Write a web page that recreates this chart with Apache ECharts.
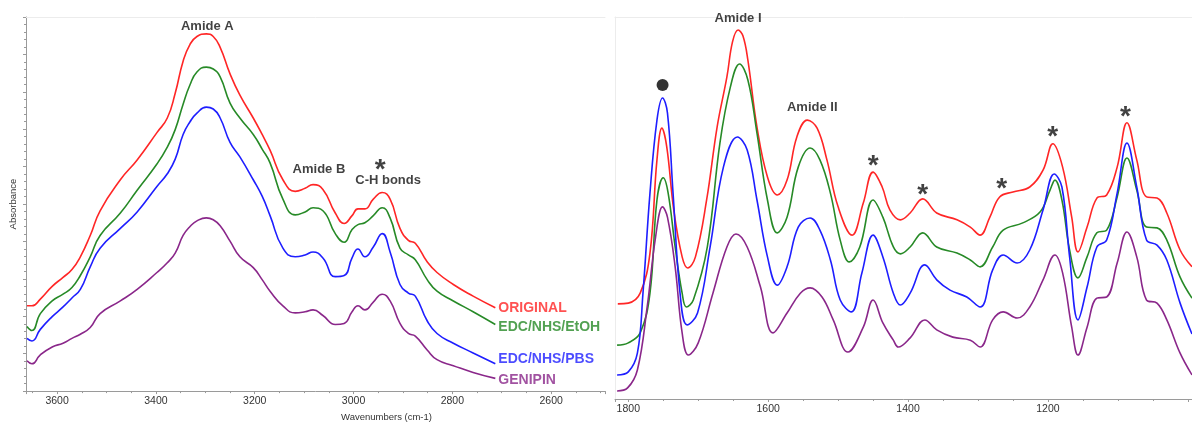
<!DOCTYPE html>
<html>
<head>
<meta charset="utf-8">
<script src="https://cdn.jsdelivr.net/npm/echarts@6/dist/echarts.min.js"></script>
<style>
  html, body { margin: 0; padding: 0; background: #fff; }
  #chart { width: 1192px; height: 427px; }
</style>
</head>
<body>
<div id="chart"></div>
<script>
// FTIR spectra of collagen samples, two wavenumber windows.
const sampleNames = ['ORIGINAL', 'EDC/NHS/EtOH', 'EDC/NHS/PBS', 'GENIPIN'];
const sampleColors = ['#ff2626', '#278a27', '#1e1eff', '#8a278a'];

// High wavenumber window (cm-1), shared sampling for all samples
const wnHigh = [3661, 3651, 3634, 3610, 3588, 3570, 3553, 3533, 3513, 3472, 3438, 3398, 3377, 3361, 3345, 3331, 3317, 3298, 3284, 3270, 3250, 3230, 3203, 3185, 3169, 3143, 3118, 3098, 3082, 3062, 3037, 3019, 3003, 2991, 2977, 2960, 2942, 2926, 2906, 2889, 2875, 2851, 2831, 2798, 2758, 2713];
const originalHigh = [.228, .228, .246, .280, .304, .325, .359, .416, .482, .565, .618, .691, .730, .796, .882, .927, .948, .955, .948, .919, .848, .791, .730, .686, .644, .565, .534, .542, .552, .539, .476, .448, .469, .487, .487, .513, .531, .513, .435, .403, .395, .346, .317, .285, .254, .223];
const etohHigh = [.173, .162, .207, .241, .259, .277, .309, .359, .416, .476, .537, .607, .652, .699, .767, .819, .853, .866, .861, .840, .770, .730, .686, .647, .610, .513, .471, .479, .490, .482, .421, .398, .432, .445, .450, .469, .490, .463, .382, .364, .351, .298, .267, .241, .212, .178];
const pbsHigh = [.141, .134, .165, .199, .225, .249, .272, .332, .382, .435, .479, .547, .581, .620, .686, .720, .743, .759, .754, .730, .665, .626, .565, .521, .469, .382, .359, .364, .372, .356, .306, .309, .356, .380, .359, .385, .421, .372, .285, .262, .254, .188, .154, .128, .102, .073];
const genipinHigh = [.081, .073, .097, .118, .128, .141, .152, .170, .207, .241, .272, .317, .343, .369, .416, .440, .455, .463, .458, .442, .401, .359, .330, .298, .267, .228, .209, .212, .217, .202, .178, .181, .212, .228, .217, .238, .259, .241, .181, .154, .147, .110, .084, .068, .050, .034];

// Fingerprint window: [wavenumber, absorbance]
const originalLow = [[1815, .249], [1800, .251], [1783, .277], [1769, .382], [1759, .626], [1752, .709], [1745, .660], [1735, .495], [1723, .372], [1715, .343], [1704, .372], [1688, .521], [1673, .712], [1659, .843], [1651, .935], [1643, .966], [1636, .950], [1629, .887], [1616, .712], [1601, .581], [1587, .534], [1573, .573], [1559, .686], [1544, .730], [1530, .709], [1516, .626], [1500, .503], [1480, .429], [1464, .513], [1450, .594], [1437, .555], [1426, .495], [1411, .469], [1397, .487], [1379, .524], [1359, .487], [1330, .469], [1311, .450], [1297, .429], [1283, .476], [1269, .529], [1250, .542], [1226, .555], [1207, .599], [1193, .668], [1179, .607], [1166, .476], [1157, .385], [1144, .450], [1130, .526], [1116, .534], [1101, .607], [1087, .723], [1073, .626], [1059, .529], [1044, .526], [1030, .487], [1011, .390], [994, .346]];
const etohLow = [[1816, .141], [1800, .147], [1783, .173], [1769, .277], [1759, .521], [1750, .579], [1743, .539], [1733, .398], [1723, .277], [1717, .241], [1707, .259], [1687, .398], [1669, .670], [1654, .817], [1641, .877], [1629, .835], [1616, .696], [1601, .521], [1587, .435], [1573, .476], [1557, .607], [1540, .657], [1526, .626], [1511, .539], [1497, .416], [1484, .359], [1469, .398], [1450, .521], [1436, .476], [1421, .398], [1411, .380], [1397, .398], [1379, .435], [1359, .398], [1330, .382], [1311, .364], [1297, .346], [1279, .398], [1264, .442], [1236, .461], [1211, .490], [1197, .547], [1190, .573], [1180, .521], [1169, .390], [1157, .317], [1144, .372], [1130, .435], [1116, .442], [1101, .529], [1087, .631], [1073, .547], [1059, .450], [1044, .448], [1030, .416], [1011, .319], [994, .264]];
const pbsLow = [[1816, .063], [1800, .071], [1787, .120], [1779, .277], [1769, .539], [1759, .730], [1751, .788], [1744, .749], [1736, .539], [1726, .277], [1716, .194], [1701, .225], [1683, .398], [1664, .607], [1644, .686], [1630, .652], [1616, .521], [1601, .372], [1587, .298], [1573, .346], [1557, .450], [1540, .474], [1526, .442], [1511, .364], [1497, .259], [1481, .228], [1466, .330], [1450, .429], [1436, .372], [1421, .277], [1411, .246], [1397, .277], [1376, .351], [1359, .312], [1340, .285], [1316, .267], [1297, .241], [1279, .338], [1264, .377], [1244, .356], [1226, .390], [1207, .495], [1191, .589], [1180, .555], [1169, .372], [1157, .207], [1144, .293], [1130, .398], [1116, .416], [1101, .539], [1087, .670], [1073, .555], [1059, .416], [1044, .403], [1030, .364], [1011, .251], [994, .170]];
const genipinLow = [[1816, .021], [1801, .029], [1787, .076], [1773, .241], [1761, .424], [1751, .503], [1744, .476], [1733, .346], [1723, .173], [1714, .115], [1700, .147], [1679, .277], [1659, .398], [1646, .432], [1630, .398], [1611, .293], [1593, .173], [1573, .225], [1554, .277], [1540, .291], [1523, .267], [1507, .207], [1486, .123], [1464, .188], [1450, .259], [1436, .199], [1421, .154], [1414, .136], [1397, .160], [1376, .207], [1359, .181], [1336, .162], [1311, .154], [1297, .136], [1279, .207], [1264, .228], [1244, .212], [1226, .241], [1207, .312], [1190, .377], [1179, .330], [1166, .188], [1157, .115], [1144, .188], [1130, .264], [1116, .267], [1101, .356], [1087, .437], [1073, .372], [1059, .259], [1044, .251], [1030, .207], [1011, .120], [994, .063]];

// Band assignments: [text, wavenumber, absorbance]
const bandLabelsHigh = [
  ['Amide A', 3296, 0.974],
  ['Amide B', 3070, 0.592],
  ['*', 2946, 0.610],
  ['C-H bonds', 2930, 0.563]
];
const bandLabelsLow = [
  ['Amide I', 1643, 0.995],
  ['Amide II', 1537, 0.762],
  ['*', 1450, 0.628],
  ['*', 1379, 0.552],
  ['*', 1266, 0.568],
  ['*', 1193, 0.704],
  ['*', 1089, 0.757]
];
const esterBand = [[1751, 0.822]];

const highSets = [originalHigh, etohHigh, pbsHigh, genipinHigh];
const lowSets = [originalLow, etohLow, pbsLow, genipinLow];
const FONT = '"Liberation Sans", Arial, sans-serif';

const axisLineStyle = { color: '#9a9a9a', width: 1 };
const frameLineStyle = { color: '#ececec', width: 1 };

function wnAxis(gridIndex, min, max, showLabel) {
  return {
    type: 'value', gridIndex, inverse: true, min, max, splitNumber: gridIndex === 0 ? 6 : 4,
    axisLine: { show: true, lineStyle: axisLineStyle },
    axisTick: { show: true, length: 3, lineStyle: axisLineStyle },
    minorTick: { show: true, splitNumber: 4, length: 2, lineStyle: axisLineStyle },
    splitLine: { show: false },
    axisLabel: {
      color: '#333', fontSize: 10.5, fontFamily: FONT, margin: 5,
      showMinLabel: false, showMaxLabel: false,
      formatter: v => showLabel(v) ? String(v) : ''
    }
  };
}

// Light frame edge along the top of a panel
function frameAxis(gridIndex, min, max) {
  return {
    type: 'value', gridIndex, position: 'top', inverse: true, min, max,
    axisLine: { show: true, lineStyle: frameLineStyle },
    axisTick: { show: false }, axisLabel: { show: false }, splitLine: { show: false }
  };
}

const series = [];
sampleNames.forEach((name, i) => {
  series.push({
    name, type: 'line', xAxisIndex: 0, yAxisIndex: 0,
    data: wnHigh.map((w, k) => [w, highSets[i][k]]),
    showSymbol: false, smooth: 0.5, silent: true,
    lineStyle: { width: 1.6, color: sampleColors[i] }
  });
  series.push({
    name, type: 'line', xAxisIndex: 1, yAxisIndex: 1,
    data: lowSets[i],
    showSymbol: false, smooth: 0.4, silent: true,
    lineStyle: { width: 1.6, color: sampleColors[i] }
  });
});

// Sample names next to the end of each high-window trace
const nameOffsets = [0, 3, -5, 2];
series.push({
  type: 'scatter', xAxisIndex: 0, yAxisIndex: 0, symbolSize: 0, silent: true, clip: false,
  data: sampleNames.map((name, i) => ({
    value: [wnHigh[wnHigh.length - 1], highSets[i][highSets[i].length - 1]],
    label: {
      show: true, position: 'right', distance: 3, offset: [0, nameOffsets[i]],
      formatter: name, color: sampleColors[i], fontSize: 14, fontWeight: 'bold', fontFamily: FONT
    }
  }))
});

function bandLabelItem(b) {
  const star = b[0] === '*';
  return {
    value: [b[1], b[2]],
    label: {
      show: true, position: 'inside', formatter: b[0], color: '#111',
      fontFamily: FONT, fontWeight: 'bold',
      fontSize: star ? 28 : 13, offset: star ? [0, 7] : [0, 0]
    }
  };
}
series.push({
  type: 'scatter', xAxisIndex: 0, yAxisIndex: 0, symbolSize: 0, silent: true, clip: false,
  data: bandLabelsHigh.map(bandLabelItem)
});
series.push({
  type: 'scatter', xAxisIndex: 1, yAxisIndex: 1, symbolSize: 0, silent: true, clip: false,
  data: bandLabelsLow.map(bandLabelItem)
});
series.push({
  type: 'scatter', xAxisIndex: 1, yAxisIndex: 1, symbol: 'circle', symbolSize: 12, silent: true,
  itemStyle: { color: '#000' }, data: esterBand
});

const option = {
  animation: false,
  backgroundColor: '#fff',
  textStyle: { fontFamily: FONT },
  grid: [
    { left: 26, top: 17, width: 579, height: 382 },
    { left: 615, top: 17, width: 577, height: 382 }
  ],
  xAxis: [
    Object.assign(wnAxis(0, 2491, 3663, v => v % 200 === 0), {
      name: 'Wavenumbers (cm-1)', nameLocation: 'middle', nameGap: 20,
      nameTextStyle: { color: '#333', fontSize: 9.5, fontFamily: FONT, padding: [0, 0, 0, 142] }
    }),
    wnAxis(1, 994, 1819, v => v % 200 === 0 && v >= 1200),
    frameAxis(0, 2491, 3663),
    frameAxis(1, 994, 1819)
  ],
  yAxis: [
    {
      type: 'value', gridIndex: 0, min: 0, max: 1, interval: 0.1,
      name: 'Absorbance', nameLocation: 'middle', nameGap: 8, nameRotate: 90,
      nameTextStyle: { color: '#333', fontSize: 9.5, fontFamily: FONT },
      axisLine: { show: true, lineStyle: axisLineStyle },
      axisTick: { show: true, length: 3, lineStyle: axisLineStyle },
      minorTick: { show: true, splitNumber: 5, length: 2, lineStyle: axisLineStyle },
      axisLabel: { show: false },
      splitLine: { show: false }
    },
    {
      type: 'value', gridIndex: 1, min: 0, max: 1,
      axisLine: { show: true, lineStyle: frameLineStyle },
      axisTick: { show: false }, axisLabel: { show: false }, splitLine: { show: false }
    }
  ],
  series
};

echarts.init(document.getElementById('chart'), null, { renderer: 'canvas' }).setOption(option);
</script>
</body>
</html>
